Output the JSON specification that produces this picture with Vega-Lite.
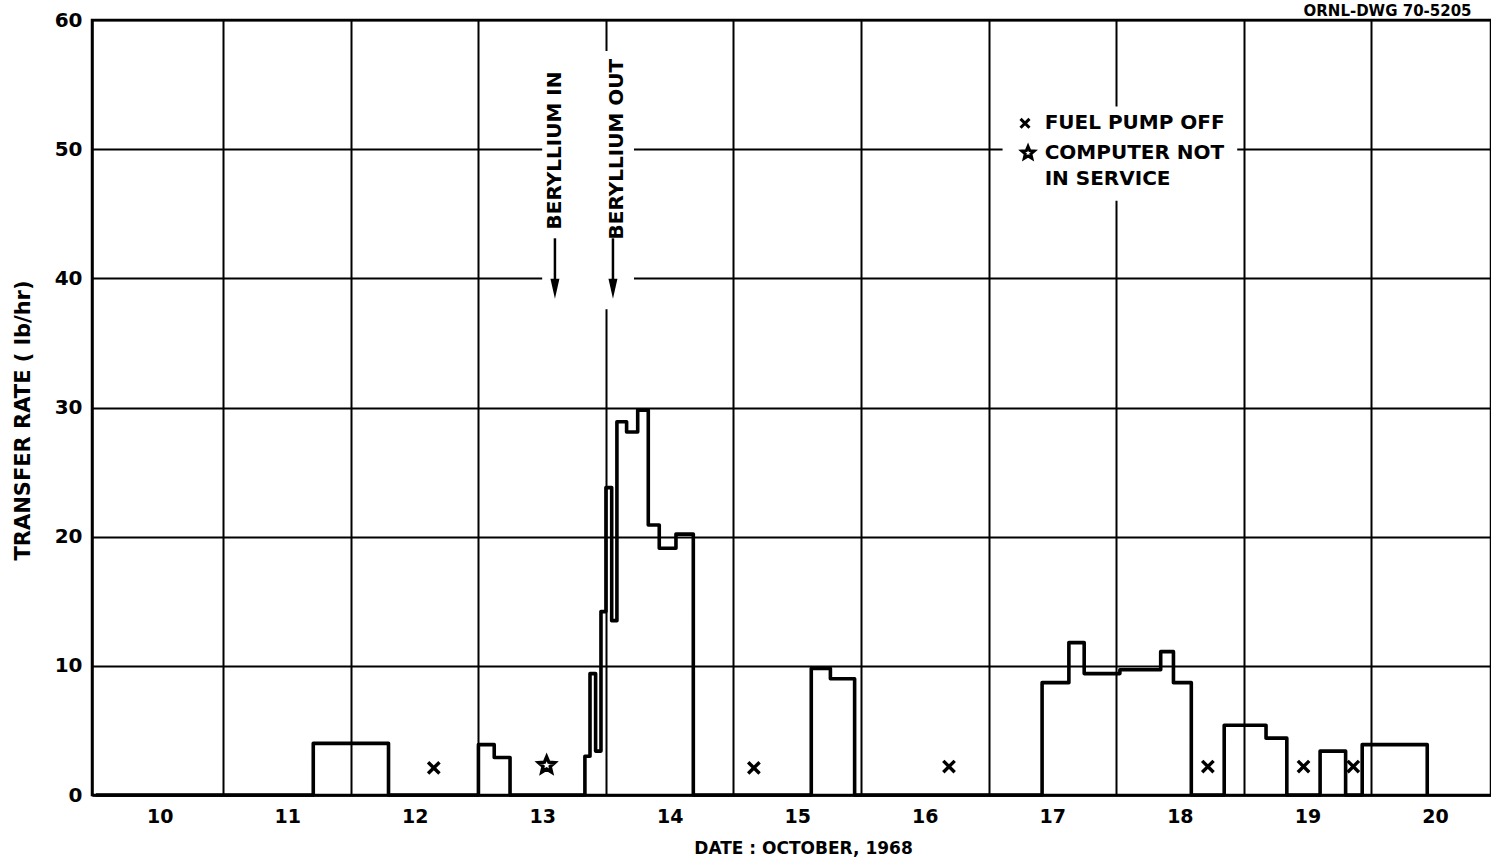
{
  "$schema": "https://vega.github.io/schema/vega-lite/v6.json",
  "width": 1399,
  "height": 775,
  "autosize": {"type": "none"},
  "padding": {"left": 92, "top": 20, "right": 0, "bottom": 70},
  "background": "white",
  "config": {
    "view": {"stroke": "black", "strokeWidth": 2.5},
    "font": "DejaVu Sans"
  },
  "datasets": {
    "trace": [
      {"day": 10.0, "rate": 0},
      {"day": 11.705, "rate": 4.0},
      {"day": 12.295, "rate": 0},
      {"day": 13.0, "rate": 3.9},
      {"day": 13.124, "rate": 2.9},
      {"day": 13.248, "rate": 0},
      {"day": 13.835, "rate": 3.0},
      {"day": 13.875, "rate": 9.4},
      {"day": 13.919, "rate": 3.4},
      {"day": 13.961, "rate": 14.2},
      {"day": 14.0, "rate": 23.8},
      {"day": 14.045, "rate": 13.5},
      {"day": 14.086, "rate": 28.9},
      {"day": 14.162, "rate": 28.1},
      {"day": 14.249, "rate": 29.8},
      {"day": 14.332, "rate": 20.9},
      {"day": 14.418, "rate": 19.1},
      {"day": 14.549, "rate": 20.2},
      {"day": 14.685, "rate": 0},
      {"day": 15.61, "rate": 9.8},
      {"day": 15.76, "rate": 9.0},
      {"day": 15.95, "rate": 0},
      {"day": 17.42, "rate": 8.7},
      {"day": 17.63, "rate": 11.8},
      {"day": 17.75, "rate": 9.4},
      {"day": 18.03, "rate": 9.7},
      {"day": 18.35, "rate": 11.1},
      {"day": 18.45, "rate": 8.7},
      {"day": 18.59, "rate": 0},
      {"day": 18.848, "rate": 5.4},
      {"day": 19.176, "rate": 4.4},
      {"day": 19.339, "rate": 0},
      {"day": 19.6, "rate": 3.4},
      {"day": 19.8, "rate": 0},
      {"day": 19.93, "rate": 3.9},
      {"day": 20.44, "rate": 0}
    ],
    "pumpOff": [
      {"day": 12.65, "rate": 2.1},
      {"day": 15.16, "rate": 2.1},
      {"day": 16.69, "rate": 2.2},
      {"day": 18.72, "rate": 2.2},
      {"day": 19.47, "rate": 2.2},
      {"day": 19.86, "rate": 2.2}
    ],
    "computerOff": [
      {"day": 13.535, "rate": 2.3}
    ],
    "masks": [
      {"day": 13.5, "day2": 14.22, "rate": 37.6, "rate2": 57.6},
      {"day": 17.11, "day2": 18.95, "rate": 46.0, "rate2": 53.3}
    ],
    "berylliumText": [
      {"day": 13.6, "rate": 49.9, "label": "BERYLLIUM IN"},
      {"day": 14.09, "rate": 50.0, "label": "BERYLLIUM OUT"}
    ],
    "arrows": [
      {"day": 13.6, "rate": 43.1, "rate2": 39.9},
      {"day": 14.055, "rate": 43.1, "rate2": 39.9}
    ],
    "arrowHeads": [
      {"day": 13.6, "rate": 39.2},
      {"day": 14.055, "rate": 39.2}
    ],
    "legendPump": [{"day": 17.286, "rate": 52.0}],
    "legendComputer": [{"day": 17.31, "rate": 49.7}],
    "legendText": [
      {"day": 17.44, "rate": 52.0, "label": "FUEL PUMP OFF"},
      {"day": 17.44, "rate": 49.7, "label": "COMPUTER NOT"},
      {"day": 17.44, "rate": 47.7, "label": "IN SERVICE"}
    ],
    "drawingNo": [{"day": 19.47, "rate": 60.33, "label": "ORNL-DWG 70-5205"}]
  },
  "encoding": {
    "x": {
      "field": "day",
      "type": "quantitative",
      "scale": {"domain": [9.97, 20.94], "nice": false, "zero": false},
      "axis": {
        "values": [10, 11, 12, 13, 14, 15, 16, 17, 18, 19, 20],
        "labelOffset": 63.8,
        "labelFlush": false,
        "labelOverlap": false,
        "ticks": false,
        "tickSize": 0,
        "domain": true,
        "domainColor": "black",
        "domainWidth": 2.5,
        "grid": true,
        "gridColor": "black",
        "gridWidth": 2,
        "gridOpacity": {"condition": {"test": "datum.value == 10", "value": 0}, "value": 1},
        "labelFont": "DejaVu Sans",
        "labelFontWeight": "bold",
        "labelFontSize": 19,
        "labelColor": "black",
        "labelPadding": 12,
        "title": "DATE : OCTOBER, 1968",
        "titleFont": "DejaVu Sans",
        "titleFontSize": 17,
        "titleFontWeight": "bold",
        "titleColor": "black",
        "titleX": 711,
        "titleY": 53,
        "titleAlign": "center",
        "titleBaseline": "middle"
      }
    },
    "y": {
      "field": "rate",
      "type": "quantitative",
      "scale": {"domain": [0, 60], "nice": false},
      "axis": {
        "values": [0, 10, 20, 30, 40, 50, 60],
        "ticks": false,
        "tickSize": 0,
        "domain": true,
        "domainColor": "black",
        "domainWidth": 2.5,
        "grid": true,
        "gridColor": "black",
        "gridWidth": 2,
        "labelFont": "DejaVu Sans",
        "labelFontWeight": "bold",
        "labelFontSize": 20,
        "labelColor": "black",
        "labelPadding": 10,
        "title": "TRANSFER RATE ( lb/hr)",
        "titleFont": "DejaVu Sans",
        "titleFontSize": 21,
        "titleFontWeight": "bold",
        "titleColor": "black",
        "titleX": -69,
        "titleY": 400,
        "titleAngle": 270,
        "titleAlign": "center",
        "titleBaseline": "middle"
      }
    }
  },
  "layer": [
    {
      "data": {"name": "masks"},
      "mark": {"type": "rect", "fill": "white", "stroke": null},
      "encoding": {
        "x2": {"field": "day2"},
        "y2": {"field": "rate2"}
      }
    },
    {
      "data": {"name": "trace"},
      "mark": {"type": "line", "interpolate": "step-after", "color": "black", "strokeWidth": 3.6, "strokeJoin": "round"}
    },
    {
      "data": {"name": "pumpOff"},
      "mark": {"type": "point", "shape": "M-1,-1L1,1M1,-1L-1,1", "filled": false, "stroke": "black", "strokeWidth": 3.4, "size": 130, "opacity": 1}
    },
    {
      "data": {"name": "computerOff"},
      "mark": {"type": "point", "shape": "M0,-1L0.265,-0.364L0.951,-0.309L0.428,0.139L0.588,0.809L0,0.45L-0.588,0.809L-0.428,0.139L-0.951,-0.309L-0.265,-0.364Z", "filled": false, "stroke": "black", "strokeWidth": 3.4, "size": 280, "opacity": 1}
    },
    {
      "data": {"name": "arrows"},
      "mark": {"type": "rule", "color": "black", "strokeWidth": 2.5},
      "encoding": {
        "y2": {"field": "rate2"}
      }
    },
    {
      "data": {"name": "arrowHeads"},
      "mark": {"type": "point", "shape": "M-0.45,-1L0.45,-1L0,1Z", "filled": true, "color": "black", "size": 400, "opacity": 1}
    },
    {
      "data": {"name": "berylliumText"},
      "mark": {"type": "text", "angle": 270, "align": "center", "baseline": "middle", "font": "DejaVu Sans", "fontWeight": "bold", "fontSize": 20, "color": "black"},
      "encoding": {"text": {"field": "label"}}
    },
    {
      "data": {"name": "legendPump"},
      "mark": {"type": "point", "shape": "M-1,-1L1,1M1,-1L-1,1", "filled": false, "stroke": "black", "strokeWidth": 3, "size": 80, "opacity": 1}
    },
    {
      "data": {"name": "legendComputer"},
      "mark": {"type": "point", "shape": "M0,-1L0.265,-0.364L0.951,-0.309L0.428,0.139L0.588,0.809L0,0.45L-0.588,0.809L-0.428,0.139L-0.951,-0.309L-0.265,-0.364Z", "filled": false, "stroke": "black", "strokeWidth": 3, "size": 170, "opacity": 1}
    },
    {
      "data": {"name": "legendText"},
      "mark": {"type": "text", "align": "left", "baseline": "middle", "font": "DejaVu Sans", "fontWeight": "bold", "fontSize": 20, "color": "black"},
      "encoding": {"text": {"field": "label"}}
    },
    {
      "data": {"name": "drawingNo"},
      "mark": {"type": "text", "align": "left", "baseline": "alphabetic", "font": "DejaVu Sans", "fontWeight": "bold", "fontSize": 15, "color": "black"},
      "encoding": {"text": {"field": "label"}}
    }
  ]
}
